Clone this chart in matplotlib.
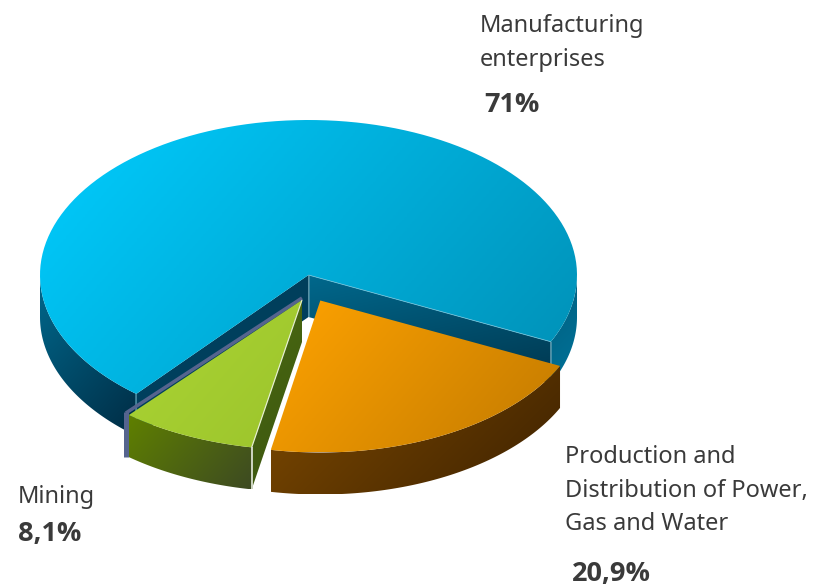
"""Exploded pseudo-3D pie chart of enterprises by sector, drawn in pixel coordinates."""
import numpy as np
import matplotlib
matplotlib.use('Agg')
import matplotlib.pyplot as plt
from matplotlib.colors import LinearSegmentedColormap
from matplotlib.patches import Polygon

LABELS = ['Manufacturing\nenterprises', 'Production and\nDistribution of Power,\nGas and Water', 'Mining']
SHARES = [71, 20.9, 8.1]
SHARE_LABELS = ['71%', '20,9%', '8,1%']

W, H = 816, 588
DEPTH = 42
START = 129.9  # parameter angle where the big slice begins, clockwise on screen
FONT = 'Noto Sans'
BOLD_FONT = 'Open Sans'
TEXT_COLOR = '#3a3a3a'

# per slice: centre x, centre y, radius x, radius y
ELLIPSES = [(308.5, 275, 268.5, 155), (320.3, 300.5, 265.6, 152), (302, 300, 270, 150)]
TOP_COLORS = [('#00CDFF', '#008FB5'), ('#FFA300', '#C27A00'), ('#ABD534', '#9CC42C')]
WALL_COLORS = [('#00688C', '#002C44'), ('#7E4A00', '#3E2200'), ('#5F8000', '#3D4A22')]

# label x, first baseline, share x, share baseline
TEXT_POS = [(480, 32, 484, 112), (565, 463, 572, 581), (18, 503, 18, 541)]

fig = plt.figure(figsize=(W / 100, H / 100), dpi=100)
ax = fig.add_axes([0, 0, 1, 1])
ax.axis('off')


def arc(ell, t0, t1, dy=0):
    cx, cy, rx, ry = ell
    t = np.radians(np.linspace(t0, t1, 120))
    return np.column_stack([cx + rx * np.cos(t), cy + ry * np.sin(t) + dy])


def grad_fill(verts, c0, c1, direction=(0.75, 0.65), zorder=1):
    """Fill a polygon with a linear gradient across its bounding box."""
    verts = np.asarray(verts)
    x0, y0 = verts.min(axis=0)
    x1, y1 = verts.max(axis=0)
    xx, yy = np.meshgrid(np.linspace(x0, x1, 200), np.linspace(y0, y1, 200))
    g = xx * direction[0] + yy * direction[1]
    g = (g - g.min()) / (g.max() - g.min())
    cmap = LinearSegmentedColormap.from_list('g', [c0, c1])
    im = ax.imshow(g, extent=(x0, x1, y1, y0), cmap=cmap, aspect='auto', zorder=zorder,
                   interpolation='bilinear')
    patch = Polygon(verts, closed=True, transform=ax.transData, facecolor='none', edgecolor='none')
    ax.add_patch(patch)
    im.set_clip_path(patch)


def edge(p0, p1, color, lw=1.0, zorder=1):
    ax.plot([p0[0], p1[0]], [p0[1], p1[1]], color=color, lw=lw * 0.72, zorder=zorder,
            solid_capstyle='butt')


def outer_wall(ell, t0, t1, c0, c1, zorder, direction=(0.75, 0.65)):
    top = arc(ell, t0, t1)
    bot = arc(ell, t0, t1, DEPTH)
    grad_fill(np.vstack([top, bot[::-1]]), c0, c1, direction=direction, zorder=zorder)


# slice angles from the shares
spans = [s / sum(SHARES) * 360 for s in SHARES]
blue_t0 = START
blue_t1 = blue_t0 + spans[0]
orange_t0 = blue_t1 - 360
orange_t1 = orange_t0 + spans[1]
green_t0 = orange_t1
green_t1 = green_t0 + spans[2]

# big slice, walls first
ell = ELLIPSES[0]
apex = np.array(ell[:2])
left = arc(ell, blue_t0, blue_t0 + 1)[0]
right = arc(ell, blue_t1 - 1, blue_t1)[-1]
d = np.array([0, DEPTH])
outer_wall(ell, blue_t0, 180, WALL_COLORS[0][0], WALL_COLORS[0][1], 1)
outer_wall(ell, 360, blue_t1, '#005E7E', '#00739A', 1)
grad_fill([apex, left, left + d, apex + d], '#00405E', '#003F5C', zorder=2)
grad_fill([apex, right, right + d, apex + d], '#00688C', '#00364E', direction=(0.2, 1), zorder=2)
grad_fill(np.vstack([[apex], arc(ell, blue_t0, blue_t1)]), *TOP_COLORS[0], zorder=3)
edge(apex, apex + d, '#4C8FA6', 1.5, 4)
edge(left, left + d, '#4C8FA6', 1.5, 4)
edge(right, right + d, '#5E9DB2', 1.5, 4)
edge(apex, right, '#6FC0D8', 0.8, 4)

# small slice
ell = ELLIPSES[2]
apex = np.array(ell[:2])
a = arc(ell, green_t0, green_t0 + 1)[0]
b = arc(ell, green_t1 - 1, green_t1)[-1]
grad_fill([apex, a, a + d, apex + d], '#4A6A10', '#3C5510', zorder=5)
outer_wall(ell, green_t0, green_t1, WALL_COLORS[2][0], WALL_COLORS[2][1], 5)
edge(apex + [0, -2], b + [-3, -2], '#55648E', 3.5, 5)
edge(b + [-3, -3], b + [-3, DEPTH], '#55648E', 5, 5)
grad_fill(np.vstack([[apex], arc(ell, green_t0, green_t1)]), *TOP_COLORS[2], zorder=6)
edge(a, a + d, '#CBD3BE', 2, 7)
edge(apex, a, '#E6EFCF', 1.2, 7)

# middle slice
ell = ELLIPSES[1]
apex = np.array(ell[:2])
outer_wall(ell, orange_t1, orange_t0, WALL_COLORS[1][0], WALL_COLORS[1][1], 8, direction=(0.5, 0.5))
grad_fill(np.vstack([[apex], arc(ell, orange_t0, orange_t1)]), *TOP_COLORS[1], zorder=9)

# text
for label, share, (lx, ly, sx, sy) in zip(LABELS, SHARE_LABELS, TEXT_POS):
    for i, line in enumerate(label.split('\n')):
        ax.text(lx, ly + i * 33.7, line, fontsize=17, family=FONT, color=TEXT_COLOR,
                va='baseline', ha='left', zorder=10)
    ax.text(sx, sy, share, fontsize=19.5, family=BOLD_FONT, fontweight='bold', color=TEXT_COLOR,
            va='baseline', ha='left', zorder=10)

ax.set_xlim(0, W)
ax.set_ylim(H, 0)
fig.savefig('out.png', dpi=100, facecolor='white')
